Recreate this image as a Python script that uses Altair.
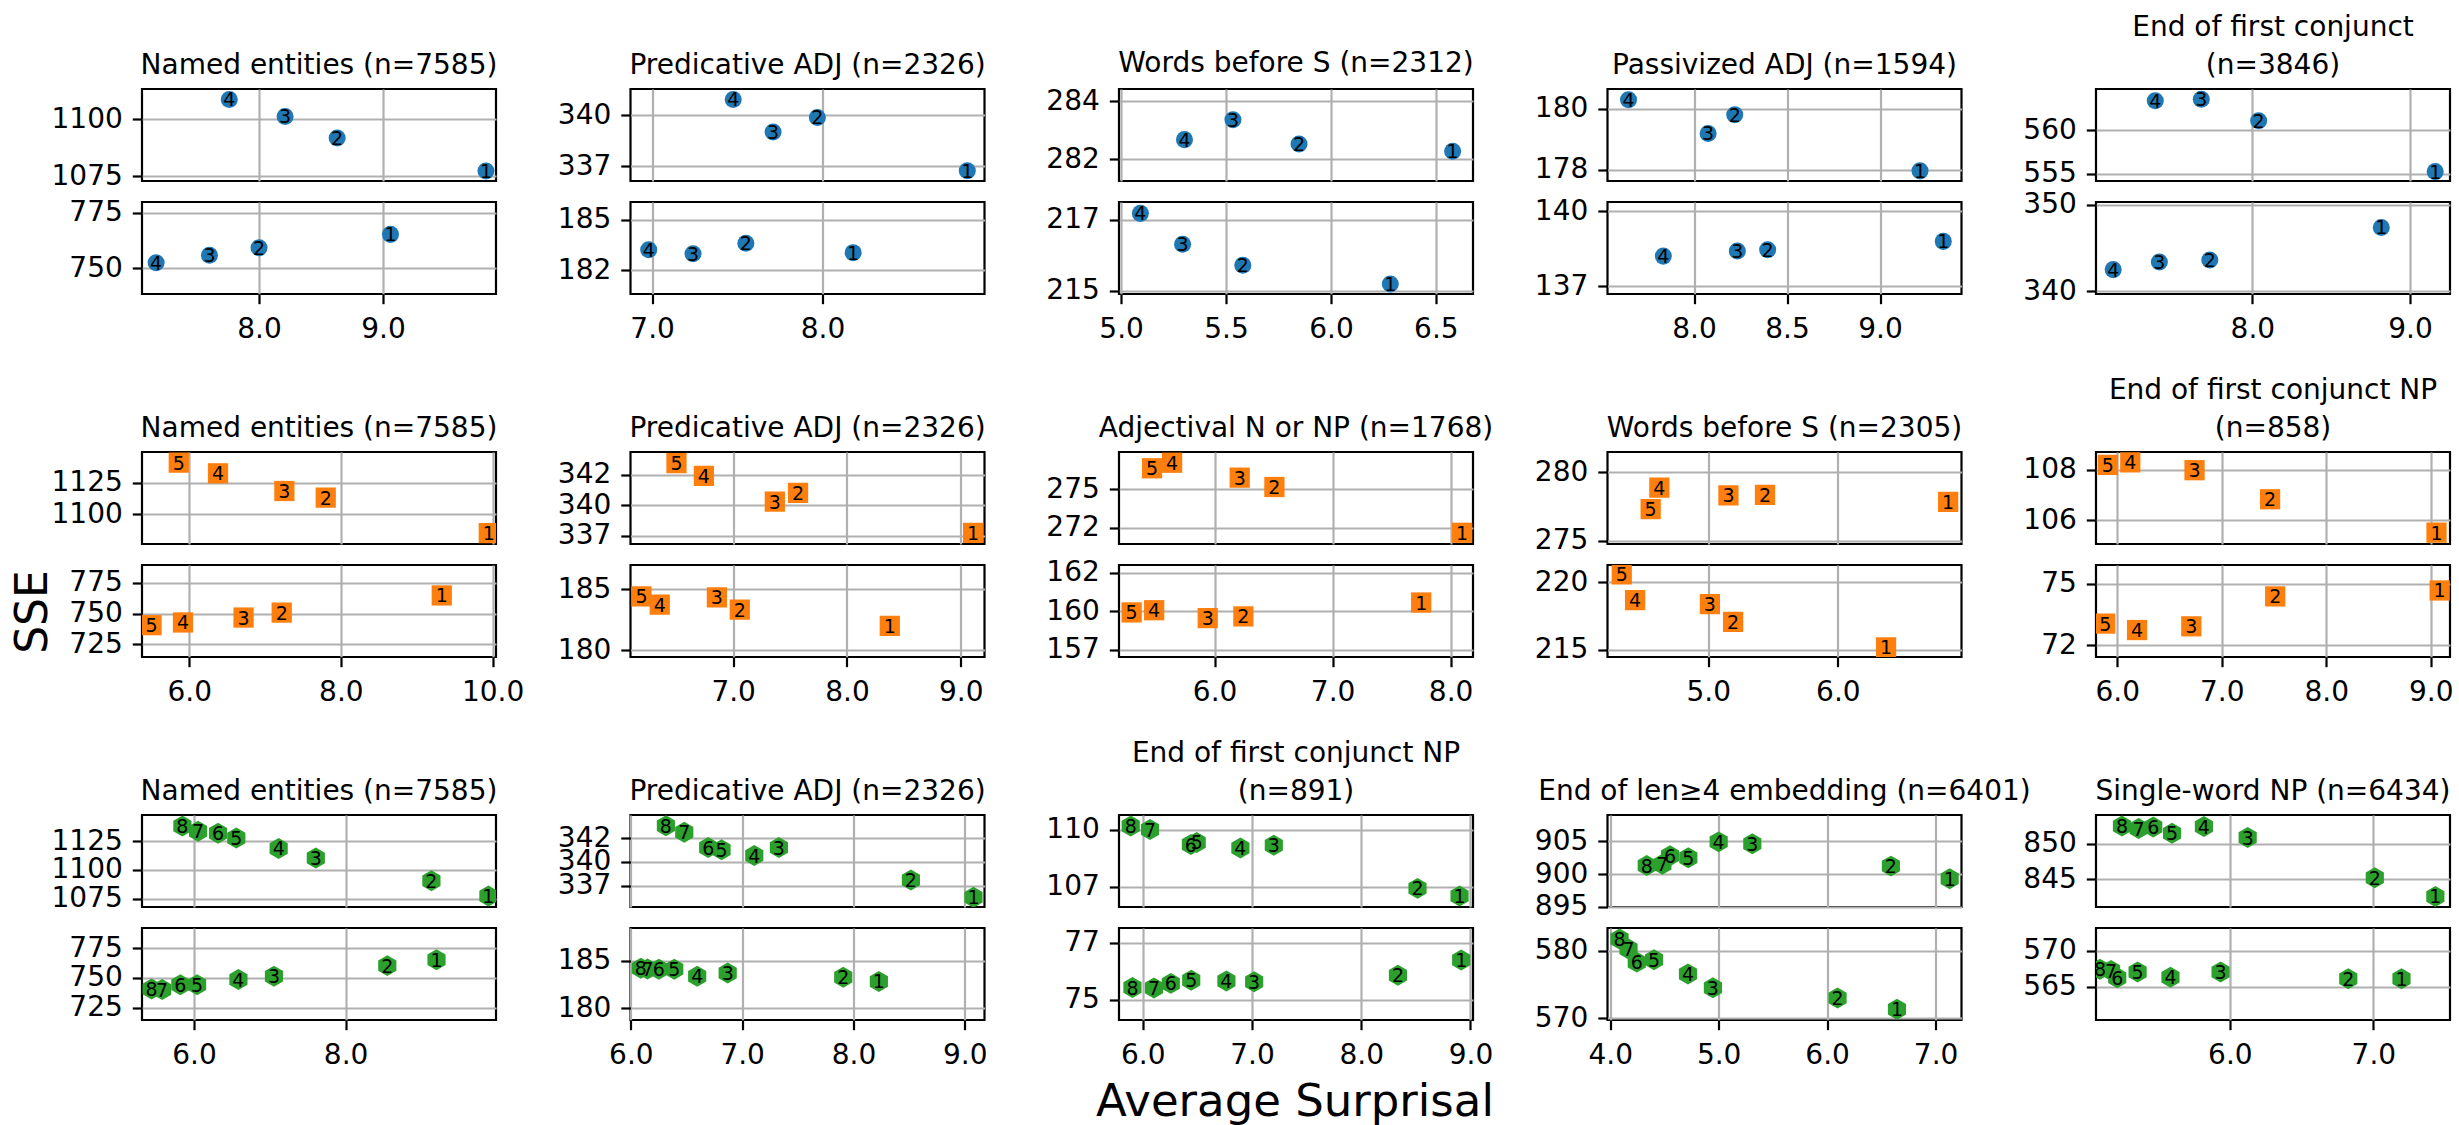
import altair as alt
import pandas as pd

# ---------------- data ----------------
LABELS_R1 = [1, 2, 3, 4]
LABELS_R2 = [1, 2, 3, 4, 5]
LABELS_R3 = [1, 2, 3, 4, 5, 6, 7, 8]

R1_TITLES = ["Named entities (n=7585)", "Predicative ADJ (n=2326)", "Words before S (n=2312)",
             "Passivized ADJ (n=1594)", ["End of first conjunct", "(n=3846)"]]
R2_TITLES = ["Named entities (n=7585)", "Predicative ADJ (n=2326)", "Adjectival N or NP (n=1768)",
             "Words before S (n=2305)", ["End of first conjunct NP", "(n=858)"]]
R3_TITLES = ["Named entities (n=7585)", "Predicative ADJ (n=2326)", ["End of first conjunct NP", "(n=891)"],
             "End of len\u22654 embedding (n=6401)", "Single-word NP (n=6434)"]

AXIS_TITLES = ["SSE", "Average Surprisal"]

# Row 1 (4 clusters) -- values in label order 1..4
R1P1_TOP_X = [9.83, 8.63, 8.21, 7.76]
R1P1_TOP_Y = [1077.2, 1091.8, 1101.3, 1108.8]
R1P1_BOT_X = [9.06, 8.00, 7.60, 7.17]
R1P1_BOT_Y = [765.2, 759.2, 755.8, 752.4]

R1P2_TOP_X = [8.85, 7.97, 7.71, 7.476]
R1P2_TOP_Y = [337.29, 339.89, 339.18, 340.77]
R1P2_BOT_X = [8.18, 7.55, 7.24, 6.98]
R1P2_BOT_Y = [183.37, 183.84, 183.32, 183.51]

R1P3_TOP_X = [6.58, 5.848, 5.533, 5.302]
R1P3_TOP_Y = [282.27, 282.52, 283.36, 282.67]
R1P3_BOT_X = [6.283, 5.58, 5.293, 5.092]
R1P3_BOT_Y = [215.19, 215.72, 216.31, 217.18]

R1P4_TOP_X = [9.215, 8.219, 8.076, 7.648]
R1P4_TOP_Y = [177.97, 179.8, 179.19, 180.29]
R1P4_BOT_X = [9.34, 8.396, 8.233, 7.835]
R1P4_BOT_Y = [138.99, 138.71, 138.67, 138.5]

R1P5_TOP_X = [9.16, 8.04, 7.676, 7.384]
R1P5_TOP_Y = [555.27, 561.13, 563.6, 563.41]
R1P5_BOT_X = [8.818, 7.73, 7.41, 7.117]
R1P5_BOT_Y = [347.39, 343.6, 343.37, 342.49]

# Row 2 (5 clusters)
R2P1_TOP_X = [9.95, 7.8, 7.255, 6.38, 5.863]
R2P1_TOP_Y = [1085.0, 1113.3, 1118.6, 1132.7, 1141.2]
R2P1_BOT_X = [9.33, 7.22, 6.717, 5.918, 5.504]
R2P1_BOT_Y = [764.7, 750.8, 746.8, 742.8, 740.6]

R2P2_TOP_X = [9.108, 7.57, 7.366, 6.743, 6.502]
R2P2_TOP_Y = [337.74, 341.0, 340.29, 342.39, 343.44]
R2P2_BOT_X = [8.376, 7.058, 6.857, 6.355, 6.194]
R2P2_BOT_Y = [182.0, 183.33, 184.32, 183.73, 184.4]

R2P3_TOP_X = [8.098, 6.507, 6.213, 5.64, 5.47]
R2P3_TOP_Y = [272.17, 275.15, 275.76, 276.73, 276.37]
R2P3_BOT_X = [7.751, 6.244, 5.942, 5.488, 5.297]
R2P3_BOT_Y = [160.56, 159.66, 159.55, 160.06, 159.92]

R2P4_TOP_X = [6.851, 5.438, 5.156, 4.623, 4.556]
R2P4_TOP_Y = [277.83, 278.34, 278.32, 278.87, 277.3]
R2P4_BOT_X = [6.372, 5.192, 5.013, 4.436, 4.333]
R2P4_BOT_Y = [215.2, 217.07, 218.39, 218.68, 220.58]

R2P5_TOP_X = [9.055, 7.462, 6.739, 6.124, 5.91]
R2P5_TOP_Y = [105.51, 106.83, 107.98, 108.29, 108.19]
R2P5_BOT_X = [9.085, 7.511, 6.708, 6.189, 5.884]
R2P5_BOT_Y = [74.72, 74.48, 73.27, 73.12, 73.38]

# Row 3 (8 clusters)
R3P1_TOP_X = [9.884, 9.132, 7.607, 7.117, 6.558, 6.317, 6.054, 5.847]
R3P1_TOP_Y = [1077.3, 1090.5, 1110.3, 1118.7, 1127.8, 1131.9, 1133.6, 1138.2]
R3P1_BOT_X = [9.199, 8.55, 7.055, 6.586, 6.041, 5.82, 5.58, 5.441]
R3P1_BOT_Y = [765.3, 760.3, 751.4, 748.6, 744.1, 744.1, 740.1, 740.7]

R3P2_TOP_X = [9.078, 8.516, 7.33, 7.109, 6.815, 6.695, 6.48, 6.315]
R3P2_TOP_Y = [336.28, 338.09, 341.5, 340.66, 341.26, 341.5, 343.1, 343.79]
R3P2_BOT_X = [8.228, 7.908, 6.87, 6.596, 6.39, 6.252, 6.15, 6.09]
R3P2_BOT_Y = [182.82, 183.27, 183.71, 183.36, 184.1, 184.1, 184.13, 184.2]

R3P3_TOP_X = [8.90, 8.515, 7.2, 6.894, 6.494, 6.441, 6.067, 5.89]
R3P3_TOP_Y = [107.09, 107.43, 109.33, 109.21, 109.45, 109.36, 110.02, 110.18]
R3P3_BOT_X = [8.915, 8.336, 7.02, 6.766, 6.444, 6.257, 6.103, 5.906]
R3P3_BOT_Y = [76.74, 76.08, 75.79, 75.82, 75.86, 75.72, 75.52, 75.54]

R3P4_TOP_X = [7.13, 6.588, 5.31, 5.0, 4.72, 4.551, 4.481, 4.337]
R3P4_TOP_Y = [899.3, 901.22, 904.64, 904.94, 902.5, 902.8, 901.5, 901.3]
R3P4_BOT_X = [6.644, 6.096, 4.947, 4.717, 4.404, 4.245, 4.169, 4.086]
R3P4_BOT_Y = [571.33, 573.0, 574.52, 576.55, 578.67, 578.31, 580.24, 581.73]

R3P5_TOP_X = [7.432, 7.01, 6.124, 5.819, 5.597, 5.466, 5.364, 5.248]
R3P5_TOP_Y = [842.6, 845.22, 850.89, 852.44, 851.5, 852.39, 852.16, 852.53]
R3P5_BOT_X = [7.196, 6.825, 5.935, 5.586, 5.357, 5.215, 5.172, 5.095]
R3P5_BOT_Y = [566.13, 566.13, 567.07, 566.34, 567.07, 566.27, 567.26, 567.45]

# ---------------- axis settings ----------------
R1_XDOM = [[7.056, 9.911], [6.873, 8.951], [4.99, 6.677], [7.535, 9.438], [7.008, 9.254]]
R1_XTICKS = [[8.0, 9.0], [7.0, 8.0], [5.0, 5.5, 6.0, 6.5], [8.0, 8.5, 9.0], [8.0, 9.0]]
R1_TOP_YDOM = [[1072.8, 1113.4], [336.79, 341.28], [281.24, 284.42], [177.64, 180.64], [554.19, 564.77]]
R1_TOP_YTICKS = [[1075, 1100], [337.5, 340], [282, 284], [178, 180], [555, 560]]
R1_BOT_YDOM = [[738.3, 779.8], [181.32, 185.88], [214.91, 217.50], [137.24, 140.3], [339.66, 350.34]]
R1_BOT_YTICKS = [[750, 775], [182.5, 185], [215, 217], [137.5, 140], [340, 350]]

R2_XDOM = [[5.378, 10.045], [6.098, 9.208], [5.19, 8.19], [4.223, 6.954], [5.796, 9.184]]
R2_XTICKS = [[6, 8, 10], [7, 8, 9], [6, 7, 8], [5, 6], [6, 7, 8, 9]]
R2_TOP_YDOM = [[1076.3, 1149.7], [336.83, 344.35], [271.44, 277.43], [274.76, 281.48], [105.06, 108.7]]
R2_TOP_YTICKS = [[1100, 1125], [337.5, 340, 342.5], [272.5, 275], [275, 280], [106, 108]]
R2_BOT_YDOM = [[714.8, 789.4], [179.46, 186.96], [157.03, 162.99], [214.48, 221.28], [72.03, 75.75]]
R2_BOT_YTICKS = [[725, 750, 775], [180, 185], [157.5, 160, 162.5], [215, 220], [72.5, 75]]

R3_XDOM = [[5.314, 9.984], [5.997, 9.177], [5.783, 9.023], [3.975, 7.239], [5.067, 7.534]]
R3_XTICKS = [[6, 8], [6, 7, 8, 9], [6, 7, 8, 9], [4, 5, 6, 7], [6, 7]]
R3_TOP_YDOM = [[1067.8, 1147.7], [335.27, 344.91], [106.61, 110.66], [894.95, 909.06], [841.11, 854.07]]
R3_TOP_YTICKS = [[1075, 1100, 1125], [337.5, 340, 342.5], [107.5, 110], [895, 900, 905], [845, 850]]
R3_BOT_YDOM = [[714.5, 792], [178.77, 188.43], [74.12, 78.14], [569.75, 583.36], [560.37, 573.2]]
R3_BOT_YTICKS = [[725, 750, 775], [180, 185], [75, 77.5], [570, 580], [565, 570]]

HEX = "M0,-1L0.866,-0.5L0.866,0.5L0,1L-0.866,0.5L-0.866,-0.5Z"
STYLES = [
    {"color": "#1f77b4", "shape": "circle", "size": 290},
    {"color": "#ff7f0e", "shape": "square", "size": 410},
    {"color": "#2ca02c", "shape": HEX, "size": 440},
]

FONT = "DejaVu Sans"
PW, PH = 354, 92


def panel(xs, ys, labels, xdom, xticks, ydom, yticks, style, top, title=None, extra=None):
    df = pd.DataFrame({"x": xs, "y": ys, "label": [str(v) for v in labels]})
    xaxis = alt.Axis(values=xticks, format=".1f", title=None, labels=not top, ticks=not top,
                     grid=True, domain=False, labelFlush=False, labelOverlap=False, labelPadding=12)
    yaxis = alt.Axis(values=yticks, labelExpr="floor(datum.value)", title=None, grid=True,
                     domain=False, labelFlush=False, labelOverlap=False, labelPadding=10)
    base = alt.Chart(df).encode(
        x=alt.X("x:Q", scale=alt.Scale(domain=xdom, nice=False, zero=False), axis=xaxis),
        y=alt.Y("y:Q", scale=alt.Scale(domain=ydom, nice=False, zero=False), axis=yaxis),
    )
    pts = base.mark_point(filled=True, shape=style["shape"], size=style["size"],
                          color=style["color"], opacity=1, strokeWidth=0, clip=True)
    txt = base.mark_text(fontSize=19, font=FONT, color="black", align="center",
                         baseline="middle", dy=1).encode(text="label:N")
    layers = [pts, txt] + (extra or [])
    ch = alt.layer(*layers).properties(width=PW, height=PH)
    if title is not None:
        ch = ch.properties(title=alt.TitleParams(text=title, frame="group", baseline="bottom",
                                                 offset=-19, lineHeight=38, anchor="middle",
                                                 fontSize=28, font=FONT, fontWeight="normal",
                                                 color="black"))
    return ch


def spacer():
    df = pd.DataFrame({"x": [0], "y": [0]})
    return alt.Chart(df).mark_point(opacity=0).encode(
        x=alt.X("x:Q", axis=None), y=alt.Y("y:Q", axis=None)
    ).properties(width=PW, height=116, view=alt.ViewBackground(stroke="transparent"))


sse_layer = alt.Chart(pd.DataFrame({"t": [AXIS_TITLES[0]]})).mark_text(
    fontSize=44, font=FONT, color="black", angle=270, align="center", baseline="alphabetic"
).encode(text="t:N", x=alt.value(-95), y=alt.value(47))

xlab_layer = alt.Chart(pd.DataFrame({"t": [AXIS_TITLES[1]]})).mark_text(
    fontSize=45, font=FONT, color="black", align="center", baseline="alphabetic"
).encode(text="t:N", x=alt.value(176), y=alt.value(188))

rows = [
    (LABELS_R1, R1_TITLES, R1_XDOM, R1_XTICKS, R1_TOP_YDOM, R1_TOP_YTICKS, R1_BOT_YDOM, R1_BOT_YTICKS,
     [(R1P1_TOP_X, R1P1_TOP_Y, R1P1_BOT_X, R1P1_BOT_Y), (R1P2_TOP_X, R1P2_TOP_Y, R1P2_BOT_X, R1P2_BOT_Y),
      (R1P3_TOP_X, R1P3_TOP_Y, R1P3_BOT_X, R1P3_BOT_Y), (R1P4_TOP_X, R1P4_TOP_Y, R1P4_BOT_X, R1P4_BOT_Y),
      (R1P5_TOP_X, R1P5_TOP_Y, R1P5_BOT_X, R1P5_BOT_Y)]),
    (LABELS_R2, R2_TITLES, R2_XDOM, R2_XTICKS, R2_TOP_YDOM, R2_TOP_YTICKS, R2_BOT_YDOM, R2_BOT_YTICKS,
     [(R2P1_TOP_X, R2P1_TOP_Y, R2P1_BOT_X, R2P1_BOT_Y), (R2P2_TOP_X, R2P2_TOP_Y, R2P2_BOT_X, R2P2_BOT_Y),
      (R2P3_TOP_X, R2P3_TOP_Y, R2P3_BOT_X, R2P3_BOT_Y), (R2P4_TOP_X, R2P4_TOP_Y, R2P4_BOT_X, R2P4_BOT_Y),
      (R2P5_TOP_X, R2P5_TOP_Y, R2P5_BOT_X, R2P5_BOT_Y)]),
    (LABELS_R3, R3_TITLES, R3_XDOM, R3_XTICKS, R3_TOP_YDOM, R3_TOP_YTICKS, R3_BOT_YDOM, R3_BOT_YTICKS,
     [(R3P1_TOP_X, R3P1_TOP_Y, R3P1_BOT_X, R3P1_BOT_Y), (R3P2_TOP_X, R3P2_TOP_Y, R3P2_BOT_X, R3P2_BOT_Y),
      (R3P3_TOP_X, R3P3_TOP_Y, R3P3_BOT_X, R3P3_BOT_Y), (R3P4_TOP_X, R3P4_TOP_Y, R3P4_BOT_X, R3P4_BOT_Y),
      (R3P5_TOP_X, R3P5_TOP_Y, R3P5_BOT_X, R3P5_BOT_Y)]),
]

items = []
for r, (labels, titles, xdoms, xticks, tyd, tyt, byd, byt, series) in enumerate(rows):
    style = STYLES[r]
    tops, bots = [], []
    for c in range(5):
        tx, ty, bx, by = series[c]
        tops.append(panel(tx, ty, labels, xdoms[c], xticks[c], tyd[c], tyt[c], style, True,
                          title=titles[c]))
        extra = []
        if r == 1 and c == 0:
            extra = [sse_layer]
        if r == 2 and c == 2:
            extra = [xlab_layer]
        bots.append(panel(bx, by, labels, xdoms[c], xticks[c], byd[c], byt[c], style, False,
                          extra=extra))
    items += tops + bots
    if r < 2:
        items += [spacer() for _ in range(5)]

chart = alt.concat(*items, columns=5, spacing={"row": 21, "column": 134.5}, bounds="flush").properties(
    padding={"left": 10, "top": 12, "right": 0, "bottom": 0}
).configure(background="white").configure_view(
    stroke="black", strokeWidth=2.2
).configure_axis(
    labelFont=FONT, labelFontSize=28, labelColor="black", tickColor="black", tickWidth=2.2,
    tickSize=9.7, gridColor="#b0b0b0", gridWidth=2.2, gridOpacity=1
)

chart.save("out.html", embed_options={"renderer": "svg", "actions": False})
